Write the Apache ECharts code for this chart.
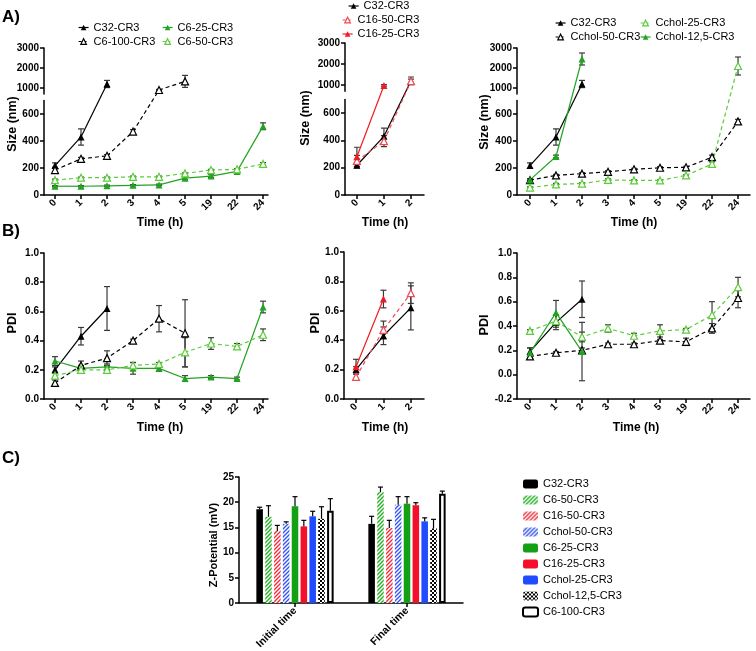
<!DOCTYPE html>
<html><head><meta charset="utf-8">
<script src="https://cdn.jsdelivr.net/npm/echarts@6.0.0/dist/echarts.min.js"></script>
<style>html,body{margin:0;padding:0;background:#fff}#c{width:756px;height:651px}</style>
</head><body><div id="c"></div><script>
// ---------------- DATA ----------------
const timeLabels = ['0','1','2','3','4','5','19','22','24'];
const timeLabelsShort = ['0','1','2'];

// A) Size (nm)
const sizeC32 = [218, 430, 1200];
const sizeC32Err = [20, 60, 180];
const sizeC6_100 = [185, 268, 290, 470, 900, 1330];
const sizeC6_100Err = [20, 10, 10, 15, 30, 300];
const sizeC6_25 = [65, 65, 68, 72, 75, 125, 140, 175, 510];
const sizeC6_25Err = [5, 5, 5, 5, 5, 10, 10, 10, 25];
const sizeC6_50 = [110, 128, 128, 135, 135, 160, 185, 190, 230];
const sizeC6_50Err = [8, 5, 5, 5, 5, 5, 5, 5, 10];
const sizeC16_50 = [250, 395, 1180];
const sizeC16_50Err = [40, 40, 100];
const sizeC16_25 = [280, 980];
const sizeC16_25Err = [70, 40];
const sizeCchol_50 = [110, 145, 158, 172, 190, 202, 205, 280, 545];
const sizeCchol_50Err = [10, 8, 8, 8, 8, 8, 8, 15, 15];
const sizeCchol_25 = [55, 78, 85, 112, 108, 108, 145, 230, 2100];
const sizeCchol_25Err = [5, 8, 5, 8, 5, 5, 5, 15, 450];
const sizeCchol_12_5 = [112, 285, 2450];
const sizeCchol_12_5Err = [8, 10, 300];

// B) PDI
const pdiC32 = [0.20, 0.43, 0.62];
const pdiC32Err = [0.02, 0.06, 0.15];
const pdiC6_100 = [0.11, 0.23, 0.28, 0.40, 0.55, 0.45];
const pdiC6_100Err = [0.02, 0.03, 0.05, 0.01, 0.09, 0.23];
const pdiC6_25 = [0.26, 0.21, 0.22, 0.21, 0.21, 0.14, 0.15, 0.14, 0.63];
const pdiC6_25Err = [0.03, 0.02, 0.02, 0.04, 0.02, 0.02, 0.01, 0.01, 0.04];
const pdiC6_50 = [0.16, 0.20, 0.20, 0.23, 0.24, 0.32, 0.38, 0.36, 0.44];
const pdiC6_50Err = [0.02, 0.02, 0.02, 0.02, 0.01, 0.10, 0.04, 0.02, 0.04];
const pdiC16_50 = [0.15, 0.47, 0.72];
const pdiC16_50Err = [0.02, 0.06, 0.07];
const pdiC16_25 = [0.22, 0.68];
const pdiC16_25Err = [0.05, 0.06];
const pdiC32b = [0.19, 0.43, 0.62];
const pdiC32bErr = [0.03, 0.06, 0.15];
const pdiCchol_50 = [0.15, 0.18, 0.20, 0.25, 0.25, 0.28, 0.27, 0.38, 0.63];
const pdiCchol_50Err = [0.01, 0.01, 0.02, 0.01, 0.01, 0.01, 0.03, 0.04, 0.08];
const pdiCchol_25 = [0.36, 0.44, 0.31, 0.38, 0.32, 0.36, 0.37, 0.49, 0.72];
const pdiCchol_25Err = [0.01, 0.05, 0.04, 0.03, 0.02, 0.05, 0.01, 0.11, 0.08];
const pdiCchol_12_5 = [0.18, 0.51, 0.19];
const pdiCchol_12_5Err = [0.04, 0.10, 0.24];

// C) Z-Potential (mV)
const zetaCategories = ['Initial time', 'Final time'];
const zetaNames = ['C32-CR3','C6-50-CR3','C16-50-CR3','Cchol-50-CR3','C6-25-CR3','C16-25-CR3','Cchol-25-CR3','Cchol-12,5-CR3','C6-100-CR3'];
const zetaInitial = [18.6, 17.1, 14.3, 15.7, 19.2, 15.2, 17.2, 16.7, 18.3];
const zetaInitialErr = [0.4, 2.2, 1.1, 0.4, 1.9, 1.2, 1.0, 2.4, 2.4];
const zetaFinal = [15.7, 22.0, 14.9, 19.5, 19.7, 19.4, 16.2, 14.8, 21.7];
const zetaFinalErr = [1.5, 1.0, 1.5, 1.6, 1.4, 0.5, 0.7, 1.8, 0.5];

// ---------------- STYLE ----------------
const FONT = '"Liberation Sans", Arial, sans-serif';
const BLACK = '#000000', GREEN = '#22a322', LGREEN = '#5ccc3a', RED = '#ec1c24', LRED = '#f04a55', BLUE = '#1f4cff';
const ST = {
  'C32-CR3': {color: BLACK, dashed: false, open: false},
  'C6-100-CR3': {color: BLACK, dashed: true, open: true},
  'C6-25-CR3': {color: GREEN, dashed: false, open: false},
  'C6-50-CR3': {color: LGREEN, dashed: true, open: true},
  'C16-50-CR3': {color: LRED, dashed: true, open: true},
  'C16-25-CR3': {color: RED, dashed: false, open: false},
  'Cchol-50-CR3': {color: BLACK, dashed: true, open: true},
  'Cchol-25-CR3': {color: LGREEN, dashed: true, open: true},
  'Cchol-12,5-CR3': {color: GREEN, dashed: false, open: false}
};
const DASH = [4, 3];
const BREAK_AT = 700;

const grids = [], xAxes = [], yAxes = [], series = [];
const axLine = {show: true, onZero: false, lineStyle: {color: '#000', width: 1.5}};
const axTick = {show: true, length: 4, lineStyle: {color: '#000', width: 1.5}};
const labStyle = {fontFamily: FONT, fontWeight: 'bold', fontSize: 10, color: '#000'};
let chart = null;

function addGrid(left, top, width, height) {
  grids.push({left, top, width, height, containLabel: false, outerBoundsMode: 'none'});
  return grids.length - 1;
}
function addTimeX(gi, min, max, labels, show) {
  const idx = labels.map((_, i) => i);
  xAxes.push({type: 'value', gridIndex: gi, min, max, show,
    axisLine: axLine, axisTick: Object.assign({customValues: idx}, axTick),
    axisLabel: Object.assign({customValues: idx, rotate: 45, margin: 6, formatter: v => labels[Math.round(v)]}, labStyle),
    splitLine: {show: false}});
}
function addValY(gi, min, max, ticks, fmt) {
  yAxes.push({type: 'value', gridIndex: gi, min, max,
    axisLine: axLine, axisTick: Object.assign({customValues: ticks}, axTick),
    axisLabel: Object.assign({customValues: ticks, margin: 5, formatter: fmt}, labStyle),
    splitLine: {show: false}});
}
function errRender(params, api) {
  const x = api.value(0), y = api.value(1), e = api.value(2);
  const t = api.coord([x, y + e]), b = api.coord([x, y - e]);
  const hw = 3, s = {stroke: '#3a3a3a', lineWidth: 1.2};
  return {type: 'group', children: [
    {type: 'line', shape: {x1: t[0], y1: t[1], x2: b[0], y2: b[1]}, style: s},
    {type: 'line', shape: {x1: t[0] - hw, y1: t[1], x2: t[0] + hw, y2: t[1]}, style: s},
    {type: 'line', shape: {x1: b[0] - hw, y1: b[1], x2: b[0] + hw, y2: b[1]}, style: s}
  ]};
}
function addErr(gi, vals, errs) {
  series.push({type: 'custom', xAxisIndex: gi, yAxisIndex: gi, clip: true, silent: true, animation: false, z: 2,
    encode: {x: 0, y: 1}, data: vals.map((v, i) => [i, v, errs[i]]), renderItem: errRender});
}
function addLine(gi, name, vals, legend, hideLine) {
  const st = ST[name];
  series.push({type: 'line', name: legend ? name : ('_' + name + '_' + gi), xAxisIndex: gi, yAxisIndex: gi,
    clip: true, silent: true, animation: false, z: 4,
    data: vals.map((v, i) => [i, v]), symbol: 'triangle', symbolSize: 7,
    lineStyle: {color: st.color, width: 1.2, type: st.dashed ? DASH : 'solid', opacity: hideLine ? 0 : 1},
    itemStyle: {color: st.open ? '#ffffff' : st.color, borderColor: st.color, borderWidth: st.open ? 1.2 : 0},
    emphasis: {disabled: true}});
}
// Connecting lines across the broken axis: each point is placed by the axis
// (lower or upper part) that holds its value, and points are joined straight.
function addBrokenLine(gu, gl, name, vals) {
  const st = ST[name];
  const segs = vals.slice(0, -1).map((v, i) => [i, v, i + 1, vals[i + 1]]);
  const px = (api, x, v) => v <= BREAK_AT ? api.coord([x, v]) : chart.convertToPixel({gridIndex: gu}, [x, v]);
  series.push({type: 'custom', xAxisIndex: gl, yAxisIndex: gl, clip: false, silent: true, animation: false, z: 3,
    encode: {x: 0, y: 1}, data: segs,
    renderItem: (params, api) => {
      const a = px(api, api.value(0), api.value(1)), b = px(api, api.value(2), api.value(3));
      return {type: 'line', shape: {x1: a[0], y1: a[1], x2: b[0], y2: b[1]},
        style: {stroke: st.color, lineWidth: 1.2, lineDash: st.dashed ? DASH : null}};
    }});
}
function legItem(name) {
  const st = ST[name];
  return {name, itemStyle: {color: st.open ? '#ffffff' : st.color, borderColor: st.color, borderWidth: st.open ? 1.2 : 0},
    lineStyle: {color: st.color, width: 1.2, opacity: 1, type: st.dashed ? [3, 2] : 'solid'}};
}

// ---- A panels (broken y axes: upper 700-3000, lower 0-700) ----
const upTicks = [1000, 2000, 3000], lowTicks = [0, 200, 400, 600];
const fmtInt = v => String(v);
const A = [
  {up: [44, 48, 224, 46], low: [44, 100.5, 224, 94.5], xr: [-0.423, 8.19], labels: timeLabels,
   lines: [['C32-CR3', sizeC32, sizeC32Err], ['C6-100-CR3', sizeC6_100, sizeC6_100Err], ['C6-25-CR3', sizeC6_25, sizeC6_25Err], ['C6-50-CR3', sizeC6_50, sizeC6_50Err]]},
  {up: [345, 43, 79, 48.3], low: [345, 99.5, 79, 95.5], xr: [-0.44, 2.48], labels: timeLabelsShort,
   lines: [['C32-CR3', sizeC32, sizeC32Err], ['C16-50-CR3', sizeC16_50, sizeC16_50Err], ['C16-25-CR3', sizeC16_25, sizeC16_25Err]]},
  {up: [517, 48, 233, 46], low: [517, 100.5, 233, 94.5], xr: [-0.5, 8.46], labels: timeLabels,
   lines: [['C32-CR3', sizeC32, sizeC32Err], ['Cchol-50-CR3', sizeCchol_50, sizeCchol_50Err], ['Cchol-25-CR3', sizeCchol_25, sizeCchol_25Err], ['Cchol-12,5-CR3', sizeCchol_12_5, sizeCchol_12_5Err]]}
];
A.forEach(p => {
  const gu = addGrid(...p.up);
  addTimeX(gu, p.xr[0], p.xr[1], p.labels, false);
  addValY(gu, BREAK_AT, 3000, upTicks, fmtInt);
  const gl = addGrid(...p.low);
  addTimeX(gl, p.xr[0], p.xr[1], p.labels, true);
  addValY(gl, 0, BREAK_AT, lowTicks, fmtInt);
  p.lines.forEach(l => {
    addErr(gu, l[1], l[2]); addErr(gl, l[1], l[2]);
    addBrokenLine(gu, gl, l[0], l[1]);
    addLine(gu, l[0], l[1], false, true); addLine(gl, l[0], l[1], true, true);
  });
});

// ---- B panels (PDI) ----
const fmt1 = v => v.toFixed(1);
const B = [
  {g: [44, 253, 224, 146], xr: [-0.423, 8.19], labels: timeLabels, yr: [0, 1], ticks: [0, 0.2, 0.4, 0.6, 0.8, 1.0],
   lines: [['C32-CR3', pdiC32, pdiC32Err], ['C6-100-CR3', pdiC6_100, pdiC6_100Err], ['C6-25-CR3', pdiC6_25, pdiC6_25Err], ['C6-50-CR3', pdiC6_50, pdiC6_50Err]]},
  {g: [344, 252, 80, 147], xr: [-0.44, 2.48], labels: timeLabelsShort, yr: [0, 1], ticks: [0, 0.2, 0.4, 0.6, 0.8, 1.0],
   lines: [['C32-CR3', pdiC32, pdiC32Err], ['C16-50-CR3', pdiC16_50, pdiC16_50Err], ['C16-25-CR3', pdiC16_25, pdiC16_25Err]]},
  {g: [517, 253, 233, 146], xr: [-0.5, 8.46], labels: timeLabels, yr: [-0.2, 1], ticks: [-0.2, 0, 0.2, 0.4, 0.6, 0.8, 1.0],
   lines: [['C32-CR3', pdiC32b, pdiC32bErr], ['Cchol-50-CR3', pdiCchol_50, pdiCchol_50Err], ['Cchol-25-CR3', pdiCchol_25, pdiCchol_25Err], ['Cchol-12,5-CR3', pdiCchol_12_5, pdiCchol_12_5Err]]}
];
B.forEach(p => {
  const g = addGrid(...p.g);
  addTimeX(g, p.xr[0], p.xr[1], p.labels, true);
  addValY(g, p.yr[0], p.yr[1], p.ticks, fmt1);
  p.lines.forEach(l => { addErr(g, l[1], l[2]); addLine(g, l[0], l[1], false, false); });
});

// ---- C panel (bars) ----
function hatch(color) {
  const c = document.createElement('canvas'); c.width = 4; c.height = 4;
  const g = c.getContext('2d'); g.fillStyle = '#ffffff'; g.fillRect(0, 0, 4, 4);
  g.strokeStyle = color; g.lineWidth = 1.4; g.beginPath();
  g.moveTo(-1, 5); g.lineTo(5, -1); g.moveTo(-1, 1); g.lineTo(1, -1); g.moveTo(3, 5); g.lineTo(5, 3); g.stroke();
  return {image: c, repeat: 'repeat'};
}
function checker() {
  const c = document.createElement('canvas'); c.width = 4; c.height = 4;
  const g = c.getContext('2d'); g.fillStyle = '#ffffff'; g.fillRect(0, 0, 4, 4);
  g.fillStyle = '#000000'; g.fillRect(0, 0, 2, 2); g.fillRect(2, 2, 2, 2);
  return {image: c, repeat: 'repeat'};
}
const barStyles = [
  {color: BLACK},
  {color: hatch('#22b022')},
  {color: hatch('#f0303c')},
  {color: hatch('#3355ee')},
  {color: '#14a014'},
  {color: '#f4102c'},
  {color: BLUE},
  {color: checker()},
  {color: '#ffffff', borderColor: '#000000', borderWidth: 2}
];
const gc = addGrid(239, 477, 224, 126);
xAxes.push({type: 'category', gridIndex: gc, data: zetaCategories, boundaryGap: true,
  axisLine: axLine, axisTick: Object.assign({alignWithLabel: true}, axTick),
  axisLabel: Object.assign({rotate: 45, margin: 6, interval: 0}, labStyle, {fontSize: 10.5})});
yAxes.push({type: 'value', gridIndex: gc, min: 0, max: 25, interval: 5,
  axisLine: axLine, axisTick: axTick, axisLabel: Object.assign({margin: 5}, labStyle), splitLine: {show: false}});
const CAT_GAP = 0.31, BAR_GAP = 0.35, NB = zetaNames.length;
zetaNames.forEach((n, k) => {
  series.push({type: 'bar', name: n + ' ', xAxisIndex: gc, yAxisIndex: gc, data: [zetaInitial[k], zetaFinal[k]],
    barGap: (BAR_GAP * 100) + '%', barCategoryGap: (CAT_GAP * 100) + '%', itemStyle: barStyles[k],
    silent: true, animation: false, z: 2, emphasis: {disabled: true}});
});
const barErrData = [];
zetaNames.forEach((n, k) => {
  barErrData.push([0, zetaInitial[k], zetaInitialErr[k], k]);
  barErrData.push([1, zetaFinal[k], zetaFinalErr[k], k]);
});
series.push({type: 'custom', xAxisIndex: gc, yAxisIndex: gc, silent: true, animation: false, z: 3,
  encode: {x: 0, y: 1}, data: barErrData,
  renderItem: (params, api) => {
    const c = api.value(0), v = api.value(1), e = api.value(2), k = api.value(3);
    const band = api.size([1, 0])[0];
    const gw = band * (1 - CAT_GAP);
    const bw = gw / (NB + (NB - 1) * BAR_GAP);
    const p = api.coord([c, v]), t = api.coord([c, v + e]);
    const x = p[0] - gw / 2 + k * bw * (1 + BAR_GAP) + bw / 2;
    const s = {stroke: '#000', lineWidth: 1.2};
    return {type: 'group', children: [
      {type: 'line', shape: {x1: x, y1: p[1], x2: x, y2: t[1]}, style: s},
      {type: 'line', shape: {x1: x - 2.5, y1: t[1], x2: x + 2.5, y2: t[1]}, style: s}
    ]};
  }});

// ---------------- LEGENDS ----------------
const legText = {fontFamily: FONT, fontSize: 11, color: '#000'};
function lineLegend(names, left, top) {
  return {data: names.map(legItem), left, top, orient: 'vertical', itemGap: 3, itemWidth: 10, itemHeight: 7,
    padding: 0, textStyle: legText, selectedMode: false};
}
const legends = [
  lineLegend(['C32-CR3', 'C6-100-CR3'], 78, 22),
  lineLegend(['C6-25-CR3', 'C6-50-CR3'], 162, 22),
  lineLegend(['C32-CR3'], 348, 0.5),
  lineLegend(['C16-50-CR3', 'C16-25-CR3'], 342, 14.5),
  lineLegend(['C32-CR3', 'Cchol-50-CR3'], 555, 17.5),
  lineLegend(['Cchol-25-CR3', 'Cchol-12,5-CR3'], 640, 17.5),
  {data: zetaNames.map((n, k) => ({name: n + ' ', itemStyle: Object.assign({borderWidth: 0}, barStyles[k])})),
   formatter: n => n.trim(), left: 522, top: 478.5, orient: 'vertical', itemGap: 5, itemWidth: 15, itemHeight: 9,
   padding: 0, textStyle: legText, selectedMode: false}
];

// ---------------- TITLES (text) ----------------
function txt(text, x, y, size, rot, align) {
  return {type: 'text', x, y, rotation: rot ? Math.PI / 2 : 0, silent: true,
    style: {text, fill: '#000', font: 'bold ' + size + 'px ' + FONT, align: align || 'center', verticalAlign: 'middle',
      textAlign: align || 'center', textVerticalAlign: 'middle'}};
}
const graphic = [
  txt('A)', 2, 17, 17, false, 'left'),
  txt('B)', 2, 231, 17, false, 'left'),
  txt('C)', 2, 458, 17, false, 'left'),
  txt('Size (nm)', 13, 124, 12.5, true),
  txt('Size (nm)', 306, 118, 12.5, true),
  txt('Size (nm)', 485, 122, 12.5, true),
  txt('Time (h)', 160, 223, 12),
  txt('Time (h)', 385, 223, 12),
  txt('Time (h)', 634, 223, 12),
  txt('PDI', 13, 323, 12.5, true),
  txt('PDI', 316, 323, 12.5, true),
  txt('PDI', 485, 325, 12.5, true),
  txt('Time (h)', 160, 428, 12),
  txt('Time (h)', 385, 428, 12),
  txt('Time (h)', 636, 428, 12),
  txt('Z-Potential (mV)', 214, 545, 11, true)
];

chart = echarts.init(document.getElementById('c'), null, {renderer: 'canvas', width: 756, height: 651});
chart.setOption({
  animation: false, backgroundColor: '#ffffff',
  textStyle: {fontFamily: FONT},
  grid: grids, xAxis: xAxes, yAxis: yAxes, series, legend: legends, graphic
});
</script></body></html>
